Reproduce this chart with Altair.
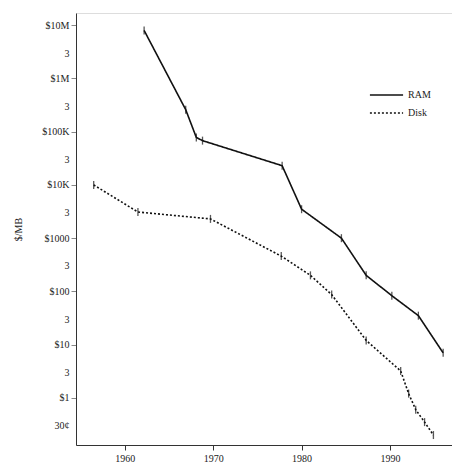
import altair as alt
import pandas as pd

ram_years = [1962.2, 1966.9, 1968.1, 1968.8, 1977.8, 1980.0, 1984.5, 1987.3, 1990.2, 1993.2, 1996.0]
ram_cost = [8.0e6, 2.6e5, 7.8e4, 6.8e4, 2.3e4, 3500, 1000, 200, 83, 35, 7]

disk_years = [1956.5, 1961.5, 1969.7, 1977.7, 1981.0, 1983.4, 1987.3, 1991.2, 1992.1, 1992.9, 1993.9, 1994.9]
disk_cost = [10000, 3100, 2300, 460, 200, 87, 12, 3.2, 1.2, 0.6, 0.35, 0.2]

y_tick_values = [1e7, 3e6, 1e6, 3e5, 1e5, 3e4, 1e4, 3000, 1000, 300, 100, 30, 10, 3, 1, 0.3]
y_tick_labels = ["$10M", "3", "$1M", "3", "$100K", "3", "$10K", "3", "$1000", "3", "$100", "3", "$10", "3", "$1", "30¢"]
x_tick_values = [1960, 1970, 1980, 1990]

rows = []
for yr, c in zip(ram_years, ram_cost):
    rows.append({"year": yr, "cost": c, "series": "RAM"})
for yr, c in zip(disk_years, disk_cost):
    rows.append({"year": yr, "cost": c, "series": "Disk"})
df = pd.DataFrame(rows)

label_expr = ""
for v, l in zip(y_tick_values, y_tick_labels):
    label_expr += f"datum.value == {v!r} ? '{l}' : "
label_expr += "''"

minor = [v for v, l in zip(y_tick_values, y_tick_labels) if not l.startswith("$")]
minor_test = "indexof([" + ",".join(repr(v) for v in minor) + "], datum.value) >= 0"

FONT = "Liberation Serif"

x = alt.X("year:Q", scale=alt.Scale(domain=[1954.5, 1997.0], nice=False, zero=False),
          axis=alt.Axis(values=x_tick_values, format="d", title=None, grid=False,
                        tickSize=5, labelFont=FONT, labelFontSize=10, labelColor="#222",
                        domainColor="#333", tickColor="#333", labelPadding=3))
y = alt.Y("cost:Q", scale=alt.Scale(type="log", domain=[0.13, 1.7e7], nice=False),
          axis=alt.Axis(values=y_tick_values, labelExpr=label_expr, title="$/MB", grid=False,
                        tickSize=5, labelFont=FONT, labelFontSize=10, labelColor="#222",
                        titleFont=FONT, titleFontSize=10, titleFontWeight="normal", titleColor="#222",
                        titlePadding=18, labelPadding=2, domainColor="#333",
                        tickOpacity={"condition": {"test": minor_test, "value": 0}, "value": 1}))

lines = alt.Chart(df).mark_line(color="#111", strokeWidth=1.6).encode(
    x=x, y=y,
    strokeDash=alt.StrokeDash("series:N",
                              scale=alt.Scale(domain=["RAM", "Disk"], range=[[1, 0], [2, 2]]),
                              legend=alt.Legend(title=None, orient="none", legendX=293, legendY=74,
                                                symbolType="stroke", symbolSize=1100,
                                                symbolStrokeWidth=1.6, symbolStrokeColor="#111",
                                                labelFont=FONT, labelFontSize=10, labelColor="#222",
                                                clipHeight=16, rowPadding=2)),
)

ticks = alt.Chart(df).mark_tick(orient="vertical", color="#111", size=8, thickness=1.3).encode(
    x="year:Q", y="cost:Q"
)

chart = alt.layer(lines, ticks).properties(
    width=376, height=432, padding={"top": 5, "left": 5, "right": 0, "bottom": 0}
).configure_view(stroke=None).configure(background="white")

chart.save("out.html", embed_options={"renderer": "svg", "actions": False})
